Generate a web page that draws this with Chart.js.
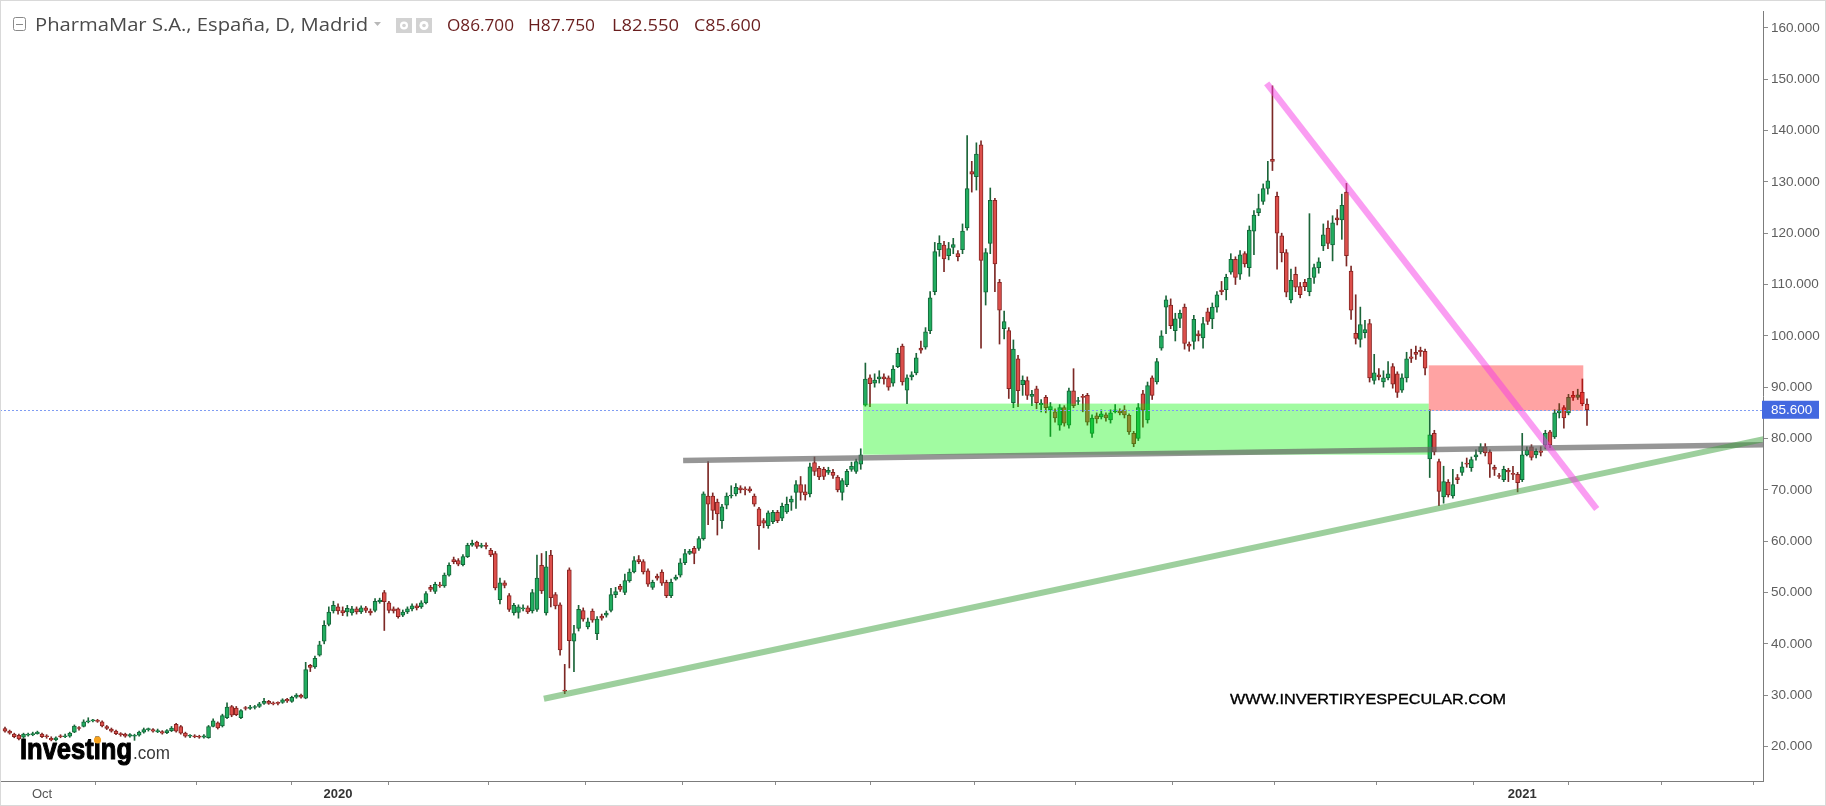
<!DOCTYPE html>
<html><head><meta charset="utf-8">
<script src="https://cdn.jsdelivr.net/npm/chart.js@4.4.1/dist/chart.umd.min.js"></script>
<style>html,body{margin:0;padding:0;background:#fff;}canvas{display:block;}</style>
</head><body>
<canvas id="c" width="1826" height="806" style="width:1826px;height:806px"></canvas>
<script>
// ---- daily candles (PharmaMar, Madrid) ----
const opens = [
23.5,23.0,22.4,22.2,21.8,22.2,22.3,22.5,22.4,22.1,
21.6,21.3,22.1,21.9,22.0,22.8,23.6,23.9,24.8,25.0,
25.1,24.8,23.9,23.4,23.0,22.5,22.4,22.0,22.0,22.2,
22.8,23.3,23.3,22.9,22.9,22.7,23.1,24.3,23.9,22.6,
22.0,22.1,21.9,21.8,21.7,23.9,24.6,24.0,25.6,27.8,
27.5,25.6,27.6,27.4,27.6,27.8,28.4,28.8,28.5,28.5,
28.6,29.2,28.8,29.6,30.0,29.4,35.8,35.5,37.8,40.5,
43.8,46.4,47.2,46.5,46.2,46.0,46.8,46.2,47.0,46.4,
46.5,48.2,50.0,48.0,46.8,46.8,45.6,46.2,46.8,47.4,
47.2,48.0,51.0,50.2,51.5,51.3,53.4,56.4,56.2,55.4,
57.0,59.2,59.8,59.0,59.2,58.2,57.6,48.6,51.9,49.4,
46.0,46.1,46.8,47.0,46.4,46.7,55.3,46.0,57.3,49.6,
47.6,31.0,54.4,40.5,43.0,46.5,43.3,46.4,42.0,45.4,
45.6,46.5,49.6,51.2,50.0,52.3,54.0,56.4,56.0,54.2,
51.0,53.2,54.0,52.0,49.4,52.6,53.4,55.8,57.6,58.6,
58.6,60.5,68.8,68.8,67.6,64.0,67.0,68.8,69.2,70.4,
70.2,70.2,68.8,66.3,64.0,63.0,63.8,65.6,64.5,65.7,
67.6,69.5,71.0,69.6,69.2,75.3,74.2,74.0,73.4,73.4,
72.5,69.5,71.0,74.0,73.6,75.0,86.5,91.8,90.8,91.6,
92.0,91.8,90.8,94.0,98.0,89.4,92.0,92.8,97.6,97.8,
101.0,108.6,116.8,117.7,115.6,117.2,116.0,116.8,121.0,132.0,
131.0,137.2,108.5,118.0,126.4,110.4,101.4,101.0,87.0,95.5,
90.5,91.3,88.2,89.7,86.6,88.0,85.6,85.2,82.6,86.0,
82.6,89.3,87.2,88.2,88.4,81.0,84.4,84.2,84.6,83.6,
85.2,85.4,85.6,84.5,81.0,80.0,88.7,83.6,91.8,91.0,
97.6,105.6,106.0,101.0,103.4,105.6,98.4,98.9,100.4,99.6,
104.7,103.3,105.6,108.9,109.0,112.4,114.9,112.0,116.0,113.3,
120.4,124.0,126.2,128.7,134.4,127.2,119.5,116.2,107.0,112.0,
109.6,110.4,108.6,111.4,113.3,117.5,121.0,117.7,123.0,122.6,
128.0,112.6,100.5,99.3,100.6,102.4,91.3,92.4,91.0,91.8,
94.0,92.6,89.4,91.8,95.9,96.8,97.2,97.0,76.0,81.0,
75.5,68.6,71.5,68.8,72.4,73.4,75.2,74.3,76.4,77.4,
78.4,77.4,74.4,72.8,72.0,73.8,73.2,73.0,72.0,76.8,
78.4,76.8,77.6,78.7,81.3,80.3,85.0,86.0,85.0,88.4,
88.0,89.0,86.7];
const highs = [
23.8,23.2,22.6,22.4,22.6,22.6,22.8,23.0,22.6,22.3,
21.9,21.9,22.3,22.4,22.8,24.2,23.9,25.2,25.6,25.3,
25.3,25.0,24.1,23.6,23.2,22.7,22.6,22.5,22.4,23.0,
23.6,23.6,23.5,23.4,23.1,23.3,23.9,24.5,24.1,22.8,
22.3,22.3,22.2,22.3,24.1,25.4,24.8,26.3,28.5,28.0,
27.8,27.2,27.8,28.0,28.0,28.6,29.4,29.0,28.7,28.7,
29.3,29.4,29.8,30.3,30.2,36.4,36.0,37.6,40.5,44.5,
47.2,48.3,47.8,47.2,47.5,47.3,47.2,47.4,47.3,46.8,
48.8,48.9,50.4,48.3,47.2,47.0,46.6,47.2,47.8,47.8,
48.4,50.2,51.4,52.0,52.0,53.8,55.8,56.9,56.6,57.4,
59.6,60.2,60.0,59.6,59.7,58.6,58.0,52.8,52.3,49.8,
47.9,47.6,47.6,47.4,50.6,57.3,57.6,58.0,58.2,50.0,
48.0,36.0,54.8,43.6,47.5,47.0,45.0,46.8,45.3,45.8,
46.4,50.8,51.0,51.6,53.6,54.6,57.0,57.2,56.4,54.6,
52.4,53.6,54.4,52.4,52.6,53.4,56.6,58.4,58.4,59.0,
60.9,69.6,75.5,69.4,68.2,67.2,69.4,70.8,71.2,70.8,
70.6,70.6,69.2,66.6,64.4,65.9,66.0,66.0,67.4,68.6,
68.8,71.8,72.6,71.0,75.2,76.4,74.6,74.4,74.4,74.0,
72.8,72.2,74.0,75.4,76.0,78.0,94.7,92.4,92.6,93.2,
92.6,92.2,94.2,97.6,98.4,92.4,93.0,96.6,99.0,101.6,
108.6,118.2,119.5,118.4,118.2,119.0,116.6,121.8,139.0,134.0,
137.6,138.0,117.0,128.8,126.8,111.0,104.8,101.6,99.2,96.2,
92.2,92.0,89.4,90.2,87.6,88.4,87.0,85.8,86.6,86.4,
89.8,93.6,88.0,88.6,88.8,84.6,85.0,85.6,85.0,85.6,
86.6,85.8,86.4,84.8,81.4,86.8,89.4,91.0,92.2,95.6,
101.0,107.8,107.2,104.4,105.0,106.2,98.8,104.0,101.0,103.6,
105.4,106.4,108.6,110.6,112.0,116.0,115.4,116.6,116.4,121.4,
124.4,127.6,129.6,134.0,148.7,128.0,120.0,116.8,113.0,113.4,
110.4,111.0,123.8,114.0,115.2,121.8,122.4,123.4,124.6,127.6,
129.7,113.6,108.0,105.6,103.0,103.2,96.4,93.6,93.2,95.0,
94.6,93.0,92.6,96.8,97.4,98.0,97.8,97.4,85.6,81.6,
76.0,74.6,72.0,74.0,73.0,75.4,76.2,76.4,77.8,79.0,
79.0,77.8,74.8,73.2,74.6,74.2,74.6,73.4,81.0,78.4,
78.8,78.0,78.4,81.6,81.6,85.6,86.8,86.4,88.6,89.2,
89.6,91.6,87.75];
const lows = [
22.8,22.4,21.7,21.3,21.6,22.0,22.1,22.4,21.7,21.6,
21.1,21.1,21.7,21.7,21.8,22.7,23.2,23.8,24.6,24.8,
24.7,23.8,23.3,22.8,22.3,22.0,21.8,21.8,21.2,22.0,
22.6,23.0,22.8,22.7,22.4,22.5,22.9,22.8,22.4,21.8,
21.7,21.7,21.6,21.6,21.6,23.8,23.4,23.8,25.4,25.8,
26.0,25.4,27.1,27.2,27.3,27.6,28.2,28.2,28.1,28.1,
28.4,28.6,28.6,29.4,29.4,29.3,34.6,35.2,37.6,40.0,
43.5,46.0,45.8,45.5,45.4,45.6,45.8,45.9,46.1,45.6,
46.2,47.9,42.6,46.0,46.0,45.0,45.3,45.9,46.4,46.6,
46.9,47.8,50.2,49.8,51.0,51.0,53.2,55.6,55.2,55.2,
56.8,59.0,58.6,58.7,58.5,57.0,50.5,47.8,50.9,46.3,
45.6,45.0,46.4,45.9,46.0,46.3,49.8,45.6,47.2,46.8,
37.8,30.3,35.3,34.6,42.5,44.4,42.9,44.2,40.8,44.6,
45.2,46.2,49.0,50.2,49.6,52.0,53.8,55.6,53.6,51.2,
50.6,52.4,51.4,49.0,49.0,52.4,53.0,55.4,57.4,55.6,
58.2,60.2,63.2,64.2,61.2,62.5,66.3,68.4,68.8,69.4,
69.0,69.5,66.8,58.4,62.6,62.5,63.4,63.6,64.0,65.4,
66.0,66.4,68.0,68.0,68.6,72.8,72.0,72.0,73.0,72.2,
69.6,68.0,70.6,73.6,73.2,74.0,86.3,86.2,90.0,90.8,
90.6,89.4,90.2,93.8,90.4,86.8,91.4,92.4,96.6,97.4,
100.4,108.0,115.5,112.5,114.8,116.0,114.6,116.0,120.6,128.0,
128.4,97.6,106.0,116.0,108.6,98.4,99.4,87.8,86.0,86.2,
88.4,87.6,86.4,85.8,85.2,85.0,80.4,83.2,81.6,82.4,
82.0,86.0,86.6,85.2,82.6,80.2,83.0,83.8,83.4,83.0,
85.0,84.6,84.0,80.8,78.4,79.6,82.2,83.0,87.6,90.6,
97.2,100.4,101.4,99.0,101.6,97.4,97.0,97.4,99.0,97.6,
102.2,101.4,104.6,108.0,107.0,112.0,110.0,111.0,113.4,111.6,
115.8,123.4,125.6,127.6,132.2,113.0,114.4,107.6,106.4,108.6,
107.4,108.8,107.8,110.2,112.2,116.6,117.0,114.6,121.6,118.8,
113.6,103.2,98.4,97.8,99.6,91.0,90.6,91.4,90.0,91.4,
89.8,88.0,89.0,91.0,94.8,95.4,96.0,92.4,72.4,76.8,
66.9,67.4,68.6,68.4,71.2,72.8,74.4,73.6,75.8,77.0,
76.6,72.4,72.8,72.2,71.6,71.6,72.0,69.6,71.6,76.6,
75.8,76.2,76.6,78.0,78.2,80.0,84.0,82.0,84.6,87.4,
87.6,86.4,82.55];
const closes = [
23.0,22.6,21.9,21.5,22.4,22.4,22.5,22.8,21.9,21.9,
21.3,21.7,21.9,22.0,22.6,24.0,23.5,24.8,25.0,25.1,
24.9,24.0,23.5,23.0,22.5,22.3,22.0,22.3,22.1,22.8,
23.3,23.4,23.0,23.1,22.6,23.1,23.6,23.0,22.6,22.0,
22.1,21.9,21.8,22.1,23.9,25.0,23.6,26.0,27.7,26.1,
26.2,27.0,27.4,27.7,27.8,28.3,28.8,28.4,28.3,28.4,
29.1,28.9,29.6,30.0,29.6,35.0,35.4,37.2,39.8,43.6,
46.2,47.5,46.4,46.0,46.9,46.8,46.2,47.0,46.5,46.0,
48.3,48.5,48.2,46.5,46.4,45.3,46.2,46.8,47.4,47.0,
48.0,49.8,50.6,51.6,51.3,53.4,55.3,56.0,55.5,57.0,
59.2,59.6,59.0,59.2,59.0,57.3,50.9,51.9,51.4,46.7,
47.5,47.2,47.0,46.2,50.0,52.8,50.3,55.0,49.0,47.4,
38.8,30.8,40.6,42.0,46.7,44.8,44.3,44.6,44.8,45.0,
46.0,49.6,50.2,50.6,52.3,54.0,56.2,56.0,54.0,51.6,
52.0,52.8,51.8,49.4,52.0,53.0,55.8,57.6,58.0,57.6,
60.5,69.2,67.2,66.0,65.3,66.7,68.8,69.0,70.5,70.0,
70.0,69.8,67.2,63.0,63.5,65.5,65.6,64.0,66.8,67.2,
68.2,71.0,69.5,69.0,74.5,73.6,72.5,72.6,73.8,72.8,
70.0,71.8,73.6,74.6,75.5,76.8,91.6,90.7,91.4,92.0,
91.6,90.0,93.5,96.6,91.0,91.8,92.4,95.7,97.2,100.8,
107.4,116.4,118.0,115.0,117.0,117.8,115.4,120.4,128.7,131.5,
135.4,114.7,116.2,126.4,114.0,105.0,102.8,89.7,97.4,89.3,
91.4,88.4,88.6,87.0,86.9,86.0,86.2,84.0,86.0,83.0,
89.3,86.4,87.4,88.0,83.2,84.0,83.8,84.8,84.0,85.0,
85.6,85.0,84.6,81.3,79.0,86.0,85.5,90.3,88.4,95.0,
100.0,107.0,102.0,103.3,104.4,98.5,98.0,103.2,100.0,102.4,
102.8,105.6,108.0,108.6,111.4,114.9,111.4,115.8,114.0,120.6,
123.5,124.8,128.7,130.2,134.0,120.0,116.2,108.5,110.8,109.5,
108.0,109.6,111.2,113.3,114.4,119.7,118.0,122.0,122.6,125.4,
115.6,105.0,99.5,102.2,101.2,91.8,92.8,92.0,91.8,92.6,
90.6,89.0,91.8,95.5,95.6,96.4,96.9,93.7,80.7,77.4,
69.7,71.6,69.0,71.0,72.0,74.5,75.0,75.9,76.8,78.4,
77.2,75.0,74.0,72.6,74.0,73.5,73.0,71.4,76.8,77.8,
76.3,77.5,77.3,81.0,78.8,85.0,85.6,84.0,88.0,88.0,
88.5,86.8,85.6];

// axis ticks
const yTickValues = [20,30,40,50,60,70,80,90,100,110,120,130,140,150,160];
const monthTickIdx = [8,31,52,72,94,115,136,157,176,198,221,242,263,286,307,328,348,368];
const monthTickLabels = ['Oct','','','2020','','','','','','','','','','','','2021','',''];

// drawings: [fromIndex, toIndex, lowPrice, highPrice]
const greenZone = [185.5, 307.8, 76.85, 86.8];
const redZone = [307.8, 341.2, 85.4, 94.25];
// lines: [index1, price1, index2, price2]
const grayLine = [146.6, 75.70, 380.05, 78.79];
const supportLine = [116.5, 29.3, 380.7, 79.99];
const pinkLine = [272.76, 149.18, 344.1, 66.28];
const lastPrice = 85.6;

// header texts
const titleText = 'PharmaMar S.A., España, D, Madrid';
const ohlcLabels = ['O86.700', 'H87.750', 'L82.550', 'C85.600'];
const watermarkText = 'WWW.INVERTIRYESPECULAR.COM';

const X_MIN = -1.081, X_MAX = 380.05, Y_MIN = 13.28, Y_MAX = 163.26;

const N = Math.min(opens.length, highs.length, lows.length, closes.length);
const bodyData = [], wickData = [], bodyFill = [], bodyBorder = [], wickColor = [];
for (let i = 0; i < N; i++) {
  const up = closes[i] >= opens[i];
  bodyData.push({x: i, y: [opens[i], closes[i]]});
  wickData.push({x: i, y: [lows[i], highs[i]]});
  bodyFill.push(up ? '#22ad60' : '#dc4f4b');
  bodyBorder.push(up ? '#136638' : '#872422');
  wickColor.push(up ? '#1b6539' : '#7c2825');
}

function fitText(ctx, str, x, y, font, color, width, strokeW) {
  ctx.save();
  ctx.font = font;
  ctx.textBaseline = 'alphabetic';
  ctx.textAlign = 'left';
  const w = ctx.measureText(str).width;
  ctx.translate(x, y);
  if (width) ctx.scale(width / w, 1);
  ctx.fillStyle = color;
  ctx.fillText(str, 0, 0);
  if (strokeW) { ctx.strokeStyle = color; ctx.lineWidth = strokeW; ctx.lineJoin = 'round'; ctx.strokeText(str, 0, 0); }
  ctx.restore();
}

const overlayPlugin = {
  id: 'overlays',
  afterDatasetsDraw(chart) {
    const {ctx, chartArea: a} = chart;
    const xs = chart.scales.x, ys = chart.scales.y;
    ctx.save();
    ctx.beginPath();
    ctx.rect(a.left, a.top, a.right - a.left, a.bottom - a.top);
    ctx.clip();
    const zone = (z, color) => {
      const x0 = xs.getPixelForValue(z[0]), x1 = xs.getPixelForValue(z[1]);
      const y0 = ys.getPixelForValue(z[3]), y1 = ys.getPixelForValue(z[2]);
      ctx.fillStyle = color;
      ctx.fillRect(x0, y0, x1 - x0, y1 - y0);
    };
    zone(greenZone, 'rgba(0,245,0,0.37)');
    zone(redZone, 'rgba(255,0,0,0.36)');
    const line = (l, color, w) => {
      ctx.beginPath();
      ctx.moveTo(xs.getPixelForValue(l[0]), ys.getPixelForValue(l[1]));
      ctx.lineTo(xs.getPixelForValue(l[2]), ys.getPixelForValue(l[3]));
      ctx.strokeStyle = color; ctx.lineWidth = w; ctx.lineCap = 'butt';
      ctx.stroke();
    };
    line(grayLine, 'rgba(100,100,100,0.68)', 5.5);
    line(supportLine, 'rgba(60,160,60,0.5)', 6);
    line(pinkLine, 'rgba(245,60,230,0.5)', 6.5);
    // last price dotted line
    const yp = Math.round(ys.getPixelForValue(lastPrice)) + 0.5;
    ctx.beginPath();
    ctx.setLineDash([2, 2]);
    ctx.moveTo(a.left, yp); ctx.lineTo(a.right, yp);
    ctx.strokeStyle = '#7f9cf2'; ctx.lineWidth = 1;
    ctx.stroke();
    ctx.restore();
  },
  afterDraw(chart) {
    const {ctx, chartArea: a} = chart;
    const ys = chart.scales.y;
    ctx.save();
    // price label
    const yp = ys.getPixelForValue(lastPrice);
    ctx.fillStyle = '#4369e0';
    ctx.fillRect(a.right - 1, yp - 9, 57, 18);
    ctx.fillStyle = '#ffffff';
    ctx.font = "13.5px 'Liberation Sans', Arial, sans-serif";
    ctx.textBaseline = 'middle';
    ctx.fillText(lastPrice.toFixed(3), a.right + 8, yp + 0.5);

    // header
    ctx.strokeStyle = '#8a8a8a'; ctx.lineWidth = 1;
    ctx.beginPath();
    ctx.roundRect ? ctx.roundRect(13.5, 17.5, 12, 13, 2) : ctx.rect(13.5, 17.5, 12, 13);
    ctx.stroke();
    ctx.beginPath(); ctx.moveTo(16, 24.5); ctx.lineTo(23, 24.5); ctx.stroke();
    fitText(ctx, titleText, 35, 31, "18px 'Open Sans', 'DejaVu Sans', sans-serif", '#4a4a4a', 333);
    // dropdown arrow
    ctx.fillStyle = '#b8b8b8';
    ctx.beginPath(); ctx.moveTo(374, 22); ctx.lineTo(381, 22); ctx.lineTo(377.5, 26); ctx.closePath(); ctx.fill();
    // two small icons
    ctx.fillStyle = '#d2d2d2';
    ctx.fillRect(396, 18, 16, 15);
    ctx.fillRect(416, 18, 16, 15);
    ctx.fillStyle = '#ffffff';
    ctx.beginPath(); ctx.arc(404, 25.5, 4, 0, Math.PI * 2); ctx.fill();
    ctx.fillStyle = '#d2d2d2';
    ctx.beginPath(); ctx.arc(404, 25.5, 1.8, 0, Math.PI * 2); ctx.fill();
    ctx.fillStyle = '#ffffff';
    ctx.beginPath(); ctx.arc(424, 25.5, 4.5, 0, Math.PI * 2); ctx.fill();
    ctx.fillStyle = '#d2d2d2';
    ctx.beginPath(); ctx.arc(424, 25.5, 1.8, 0, Math.PI * 2); ctx.fill();
    const ohlcX = [447, 528, 612, 694];
    ohlcLabels.forEach((t, i) => fitText(ctx, t, ohlcX[i], 31, "17px 'Open Sans', 'DejaVu Sans', sans-serif", '#6a1e1e', 67));

    // watermark
    fitText(ctx, watermarkText, 1230, 704, "15px 'Liberation Sans', Arial, sans-serif", '#000000', 276, 0.35);

    // investing.com logo
    fitText(ctx, 'Investing', 20, 759, "bold 30px 'Liberation Sans Narrow', 'Liberation Sans', Arial, sans-serif", '#000000', 112, 1.1);
    fitText(ctx, '.com', 133, 759, "19px 'Liberation Sans', Arial, sans-serif", '#3a3a3a', 37);
    ctx.fillStyle = '#f5a21e';
    ctx.beginPath(); ctx.arc(97.5, 740, 3.6, 0, Math.PI * 2); ctx.fill();

    // frame
    ctx.strokeStyle = '#d9d9d9'; ctx.lineWidth = 1;
    ctx.strokeRect(0.5, 0.5, 1825, 805);
    ctx.restore();
  }
};

new Chart(document.getElementById('c'), {
  type: 'bar',
  data: {
    datasets: [
      {data: wickData, backgroundColor: wickColor, borderWidth: 0, barThickness: 1, grouped: false, order: 2},
      {data: bodyData, backgroundColor: bodyFill, borderColor: bodyBorder, borderWidth: 1, borderSkipped: false,
       barThickness: 4, grouped: false, minBarLength: 1, order: 1}
    ]
  },
  options: {
    responsive: false, animation: false, devicePixelRatio: 1, events: [],
    layout: {padding: 0},
    plugins: {legend: {display: false}, tooltip: {enabled: false}, title: {display: false}},
    scales: {
      x: {
        type: 'linear', min: X_MIN, max: X_MAX, offset: false,
        afterFit: s => { s.height = 25; },
        afterBuildTicks: s => { s.ticks = monthTickIdx.map(v => ({value: v})); },
        grid: {drawOnChartArea: false, drawTicks: true, tickLength: 4, color: '#8c8c8c'},
        border: {display: true, color: '#7c7c7c', width: 1},
        ticks: {
          autoSkip: false, maxRotation: 0, minRotation: 0, padding: 2,
          callback: (v, i) => monthTickLabels[i],
          color: ctx => (/^\d{4}$/.test(ctx.tick && ctx.tick.label) ? '#333333' : '#555555'),
          font: ctx => ({family: "'Liberation Sans', Arial, sans-serif", size: 13,
                         weight: (/^\d{4}$/.test(ctx.tick && ctx.tick.label) ? 'bold' : 'normal')})
        }
      },
      y: {
        type: 'linear', position: 'right', min: Y_MIN, max: Y_MAX,
        afterFit: s => { s.width = 63; },
        afterBuildTicks: s => { s.ticks = yTickValues.map(v => ({value: v})); },
        grid: {drawOnChartArea: false, drawTicks: true, tickLength: 5, color: '#8c8c8c'},
        border: {display: true, color: '#7c7c7c', width: 1},
        ticks: {
          padding: 3, color: '#5e5e5e',
          font: {family: "'Liberation Sans', Arial, sans-serif", size: 13.5},
          callback: v => Number(v).toFixed(3)
        }
      }
    }
  },
  plugins: [overlayPlugin]
});
</script>
</body></html>
